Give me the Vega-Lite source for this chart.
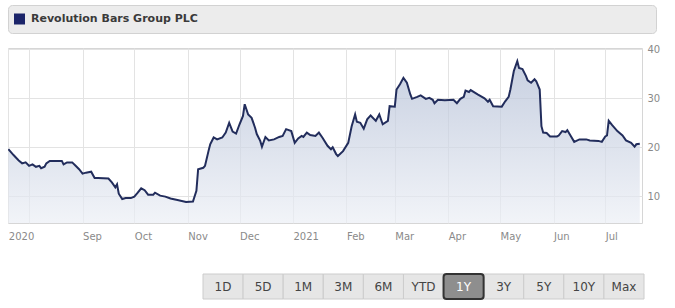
{
  "$schema": "https://vega.github.io/schema/vega-lite/v6.json",
  "background": "white",
  "padding": {"left": 7, "top": 4, "right": 0, "bottom": 0},
  "config": {"font": "DejaVu Sans", "view": {"stroke": null}},
  "datasets": {
    "header": [{"name": "Revolution Bars Group PLC"}],
    "ranges": [{"range": "1D"}, {"range": "5D"}, {"range": "1M"}, {"range": "3M"}, {"range": "6M"}, {"range": "YTD"}, {"range": "1Y"}, {"range": "3Y"}, {"range": "5Y"}, {"range": "10Y"}, {"range": "Max"}],
    "prices": [
      {"date": "2020-07-20", "price": 19.6}, {"date": "2020-07-23", "price": 18.4}, {"date": "2020-07-26", "price": 17.3}, {"date": "2020-07-28", "price": 16.7}, {"date": "2020-07-30", "price": 16.9},
      {"date": "2020-08-01", "price": 16.2}, {"date": "2020-08-03", "price": 16.5}, {"date": "2020-08-05", "price": 16.0}, {"date": "2020-08-07", "price": 16.2}, {"date": "2020-08-08", "price": 15.7},
      {"date": "2020-08-10", "price": 16.0}, {"date": "2020-08-11", "price": 16.7}, {"date": "2020-08-13", "price": 17.2}, {"date": "2020-08-20", "price": 17.2}, {"date": "2020-08-21", "price": 16.5},
      {"date": "2020-08-23", "price": 16.9}, {"date": "2020-08-26", "price": 16.9}, {"date": "2020-08-28", "price": 16.2}, {"date": "2020-08-30", "price": 15.5}, {"date": "2020-09-01", "price": 14.6},
      {"date": "2020-09-03", "price": 14.8}, {"date": "2020-09-06", "price": 15.0}, {"date": "2020-09-08", "price": 13.7}, {"date": "2020-09-10", "price": 13.7}, {"date": "2020-09-16", "price": 13.6},
      {"date": "2020-09-18", "price": 12.8}, {"date": "2020-09-20", "price": 11.8}, {"date": "2020-09-21", "price": 12.4}, {"date": "2020-09-22", "price": 10.5}, {"date": "2020-09-24", "price": 9.4},
      {"date": "2020-09-26", "price": 9.6}, {"date": "2020-09-29", "price": 9.6}, {"date": "2020-10-01", "price": 9.9}, {"date": "2020-10-03", "price": 10.7}, {"date": "2020-10-05", "price": 11.6},
      {"date": "2020-10-07", "price": 11.2}, {"date": "2020-10-09", "price": 10.3}, {"date": "2020-10-12", "price": 10.3}, {"date": "2020-10-13", "price": 10.7}, {"date": "2020-10-16", "price": 10.1},
      {"date": "2020-10-19", "price": 9.9}, {"date": "2020-10-22", "price": 9.5}, {"date": "2020-10-26", "price": 9.2}, {"date": "2020-10-31", "price": 8.8}, {"date": "2020-11-04", "price": 8.9},
      {"date": "2020-11-06", "price": 11.1}, {"date": "2020-11-07", "price": 15.5}, {"date": "2020-11-10", "price": 15.8}, {"date": "2020-11-11", "price": 16.2}, {"date": "2020-11-13", "price": 19.2},
      {"date": "2020-11-14", "price": 20.6}, {"date": "2020-11-16", "price": 22.0}, {"date": "2020-11-18", "price": 21.6}, {"date": "2020-11-21", "price": 22.0}, {"date": "2020-11-23", "price": 23.0},
      {"date": "2020-11-25", "price": 25.0}, {"date": "2020-11-27", "price": 23.2}, {"date": "2020-11-29", "price": 22.8}, {"date": "2020-12-01", "price": 24.7}, {"date": "2020-12-03", "price": 26.4},
      {"date": "2020-12-04", "price": 28.8}, {"date": "2020-12-06", "price": 26.7}, {"date": "2020-12-08", "price": 26.0}, {"date": "2020-12-10", "price": 24.0}, {"date": "2020-12-11", "price": 22.7},
      {"date": "2020-12-13", "price": 21.3}, {"date": "2020-12-14", "price": 20.1}, {"date": "2020-12-16", "price": 22.1}, {"date": "2020-12-18", "price": 21.4}, {"date": "2020-12-21", "price": 21.6},
      {"date": "2020-12-24", "price": 22.1}, {"date": "2020-12-26", "price": 22.3}, {"date": "2020-12-28", "price": 23.7}, {"date": "2020-12-31", "price": 23.3}, {"date": "2021-01-02", "price": 20.9},
      {"date": "2021-01-04", "price": 21.8}, {"date": "2021-01-06", "price": 22.3}, {"date": "2021-01-07", "price": 22.1}, {"date": "2021-01-09", "price": 23.0}, {"date": "2021-01-11", "price": 22.5},
      {"date": "2021-01-14", "price": 22.3}, {"date": "2021-01-16", "price": 23.0}, {"date": "2021-01-18", "price": 22.0}, {"date": "2021-01-21", "price": 20.3}, {"date": "2021-01-23", "price": 19.6},
      {"date": "2021-01-24", "price": 20.0}, {"date": "2021-01-26", "price": 18.6}, {"date": "2021-01-27", "price": 18.2}, {"date": "2021-01-30", "price": 19.2}, {"date": "2021-02-02", "price": 20.9},
      {"date": "2021-02-04", "price": 24.3}, {"date": "2021-02-06", "price": 26.7}, {"date": "2021-02-07", "price": 25.2}, {"date": "2021-02-09", "price": 25.0}, {"date": "2021-02-11", "price": 23.8},
      {"date": "2021-02-13", "price": 25.7}, {"date": "2021-02-15", "price": 26.5}, {"date": "2021-02-18", "price": 25.4}, {"date": "2021-02-20", "price": 26.7}, {"date": "2021-02-22", "price": 24.7},
      {"date": "2021-02-25", "price": 25.4}, {"date": "2021-02-26", "price": 28.4}, {"date": "2021-03-01", "price": 28.3}, {"date": "2021-03-02", "price": 31.8}, {"date": "2021-03-04", "price": 32.9},
      {"date": "2021-03-06", "price": 34.2}, {"date": "2021-03-08", "price": 33.2}, {"date": "2021-03-10", "price": 30.8}, {"date": "2021-03-11", "price": 29.9}, {"date": "2021-03-14", "price": 30.3},
      {"date": "2021-03-16", "price": 30.6}, {"date": "2021-03-19", "price": 29.9}, {"date": "2021-03-21", "price": 30.1}, {"date": "2021-03-23", "price": 29.7}, {"date": "2021-03-24", "price": 29.0},
      {"date": "2021-03-26", "price": 29.7}, {"date": "2021-03-30", "price": 29.6}, {"date": "2021-04-04", "price": 29.7}, {"date": "2021-04-06", "price": 29.0}, {"date": "2021-04-08", "price": 29.9},
      {"date": "2021-04-10", "price": 30.3}, {"date": "2021-04-11", "price": 31.6}, {"date": "2021-04-13", "price": 31.3}, {"date": "2021-04-14", "price": 31.7}, {"date": "2021-04-18", "price": 30.8},
      {"date": "2021-04-22", "price": 30.0}, {"date": "2021-04-24", "price": 29.3}, {"date": "2021-04-25", "price": 29.7}, {"date": "2021-04-27", "price": 28.4}, {"date": "2021-05-02", "price": 28.3},
      {"date": "2021-05-04", "price": 29.4}, {"date": "2021-05-06", "price": 30.3}, {"date": "2021-05-07", "price": 31.8}, {"date": "2021-05-09", "price": 35.6}, {"date": "2021-05-11", "price": 37.6},
      {"date": "2021-05-12", "price": 36.2}, {"date": "2021-05-14", "price": 36.0}, {"date": "2021-05-16", "price": 34.6}, {"date": "2021-05-17", "price": 33.7}, {"date": "2021-05-19", "price": 33.2},
      {"date": "2021-05-21", "price": 33.9}, {"date": "2021-05-22", "price": 33.5}, {"date": "2021-05-24", "price": 31.8}, {"date": "2021-05-25", "price": 24.3}, {"date": "2021-05-26", "price": 23.0},
      {"date": "2021-05-28", "price": 22.9}, {"date": "2021-05-30", "price": 22.2}, {"date": "2021-06-03", "price": 22.2}, {"date": "2021-06-04", "price": 22.4}, {"date": "2021-06-06", "price": 23.3},
      {"date": "2021-06-08", "price": 23.1}, {"date": "2021-06-09", "price": 23.5}, {"date": "2021-06-11", "price": 22.3}, {"date": "2021-06-13", "price": 21.1}, {"date": "2021-06-16", "price": 21.6},
      {"date": "2021-06-20", "price": 21.6}, {"date": "2021-06-22", "price": 21.4}, {"date": "2021-06-27", "price": 21.3}, {"date": "2021-06-29", "price": 21.1}, {"date": "2021-07-01", "price": 22.2},
      {"date": "2021-07-02", "price": 22.4}, {"date": "2021-07-03", "price": 25.4}, {"date": "2021-07-05", "price": 24.5}, {"date": "2021-07-08", "price": 23.3}, {"date": "2021-07-11", "price": 22.4},
      {"date": "2021-07-13", "price": 21.4}, {"date": "2021-07-16", "price": 20.9}, {"date": "2021-07-18", "price": 20.1}, {"date": "2021-07-19", "price": 20.6}, {"date": "2021-07-21", "price": 20.7}
    ]
  },
  "spacing": 31,
  "vconcat": [
    {
      "spacing": 9,
      "vconcat": [
        {
          "width": 648,
          "height": 28,
          "data": {"name": "header"},
          "view": {"fill": "#ececec", "stroke": "#d2d2d2", "cornerRadius": 4},
          "encoding": {
            "x": {"field": "name", "type": "nominal", "axis": null, "scale": {"type": "point", "align": 0, "padding": 0}}
          },
          "layer": [
            {"mark": {"type": "point", "shape": "M1.09,-1H3.09V1H1.09Z", "size": 121, "filled": true, "color": "#1b2469", "opacity": 1}},
            {"mark": {"type": "text", "align": "left", "baseline": "middle", "dx": 23, "fontSize": 11, "fontWeight": "bold", "color": "#3a3a3a"}, "encoding": {"text": {"field": "name"}}}
          ]
        },
        {
          "width": 634,
          "height": 175,
          "data": {"name": "prices"},
          "view": {"stroke": "#d6d6d6"},
          "encoding": {
            "x": {
              "field": "date", "type": "temporal",
              "scale": {"type": "utc", "domain": [{"year": 2020, "month": 7, "date": 19, "hours": 19, "utc": true}, {"year": 2021, "month": 7, "date": 22, "hours": 7, "utc": true}]},
              "axis": {
                "title": null, "domain": false, "ticks": false, "tickSize": 0, "grid": true, "gridColor": "#e3e3e3",
                "values": [
                  {"year": 2020, "month": 7, "date": 20, "utc": true}, {"year": 2020, "month": 8, "date": 1, "utc": true}, {"year": 2020, "month": 9, "date": 1, "utc": true},
                  {"year": 2020, "month": 10, "date": 1, "utc": true}, {"year": 2020, "month": 11, "date": 1, "utc": true}, {"year": 2020, "month": 12, "date": 1, "utc": true},
                  {"year": 2021, "month": 1, "date": 1, "utc": true}, {"year": 2021, "month": 2, "date": 1, "utc": true}, {"year": 2021, "month": 3, "date": 1, "utc": true},
                  {"year": 2021, "month": 4, "date": 1, "utc": true}, {"year": 2021, "month": 5, "date": 1, "utc": true}, {"year": 2021, "month": 6, "date": 1, "utc": true},
                  {"year": 2021, "month": 7, "date": 1, "utc": true}
                ],
                "labelExpr": "utcdate(datum.value) != 1 ? '2020' : (utcmonth(datum.value) == 0 ? utcFormat(datum.value, '%Y') : (utcmonth(datum.value) == 7 ? '' : utcFormat(datum.value, '%b')))",
                "labelAlign": "left", "labelPadding": 8, "labelFontSize": 10, "labelColor": "#8a8a8a", "labelOverlap": false, "labelFlush": false, "labelBound": false
              }
            },
            "y": {
              "field": "price", "type": "quantitative",
              "scale": {"domain": [4.5, 40.3], "zero": false, "nice": false},
              "axis": {
                "orient": "right", "title": null, "domain": false, "ticks": false, "tickSize": 0, "values": [10, 20, 30, 40],
                "grid": true, "gridColor": "#e3e3e3", "labelPadding": 5, "labelFontSize": 10, "labelColor": "#8a8a8a", "labelAlign": "left"
              }
            }
          },
          "mark": {
            "type": "area", "clip": true, "interpolate": "linear",
            "line": {"color": "#222d5c", "strokeWidth": 2},
            "color": {"gradient": "linear", "x1": 0, "y1": 0, "x2": 0, "y2": 1, "stops": [{"offset": 0, "color": "#b0bcd4"}, {"offset": 1, "color": "#f4f6fa"}]}
          }
        }
      ]
    },
    {
      "width": 636,
      "height": 25,
      "data": {"name": "ranges"},
      "encoding": {
        "x": {"field": "range", "type": "nominal", "sort": null, "axis": null, "scale": {"type": "band", "paddingInner": 0, "paddingOuter": 0, "range": [195, 636]}}
      },
      "layer": [
        {"mark": {"type": "rect", "fill": "#e6e6e6", "stroke": "#cccccc", "strokeWidth": 1}},
        {"transform": [{"filter": "datum.range === '1Y'"}], "mark": {"type": "rect", "fill": "#8e8e8e", "stroke": "#333333", "strokeWidth": 2, "cornerRadius": 3}},
        {
          "mark": {"type": "text", "fontSize": 12, "baseline": "middle"},
          "encoding": {
            "text": {"field": "range"},
            "color": {"condition": {"test": "datum.range === '1Y'", "value": "#ffffff"}, "value": "#444444"}
          }
        }
      ]
    }
  ]
}
